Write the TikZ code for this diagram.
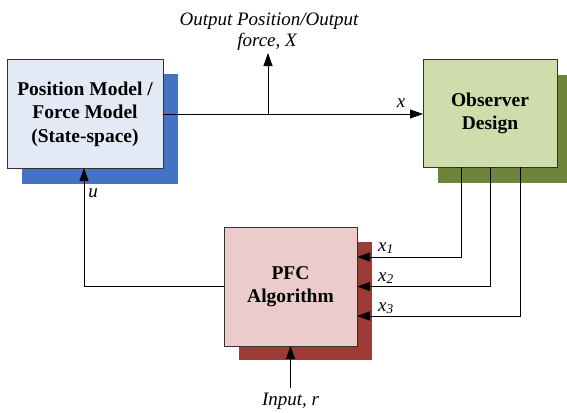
\documentclass[tikz,border=0pt]{standalone}
\usepackage{fontspec}
\setmainfont{Liberation Serif}
\usetikzlibrary{arrows.meta}
\definecolor{bfill}{HTML}{E3EAF6}
\definecolor{bshad}{HTML}{4472C4}
\definecolor{gfill}{HTML}{CFDDAC}
\definecolor{gshad}{HTML}{6D843A}
\definecolor{rfill}{HTML}{ECCCCB}
\definecolor{rshad}{HTML}{9E3B37}
\begin{document}
\begin{tikzpicture}[x=1pt,y=-1pt,
  boxstyle/.style={draw=black!80, line width=1pt, inner sep=0pt, outer sep=0pt, align=center,
    font=\bfseries\fontsize{19.5}{23.5}\selectfont},
  shadstyle/.style={inner sep=0pt, outer sep=0pt},
  lbl/.style={font=\itshape\fontsize{19}{21}\selectfont, inner sep=0pt, anchor=base},
  conn/.style={line width=0.9pt, draw=black},
  arr/.style={conn, -{Triangle[length=13pt,width=9pt]}}]
\useasboundingbox (0,0) rectangle (567,412);
% shadows
\node[shadstyle, fill=bshad, minimum width=156pt, minimum height=110pt] (posshad) at (100,129) {};
\node[shadstyle, fill=gshad, minimum width=134pt, minimum height=108pt] (obsshad) at (505,129) {};
\node[shadstyle, fill=rshad, minimum width=133pt, minimum height=118pt] (pfcshad) at (305.5,301) {};
% boxes
\node[boxstyle, fill=bfill, minimum width=156pt, minimum height=108pt] (pos) at (85,114)
  {Position Model /\\Force Model\\(State-space)};
\node[boxstyle, fill=gfill, minimum width=134pt, minimum height=107pt] (obs) at (490,113.5)
  {Observer\\Design};
\node[boxstyle, fill=rfill, minimum width=133pt, minimum height=119pt] (pfc) at (290.5,286.5)
  {PFC\\Algorithm};
% labels
\node[lbl] (outl1) at (269,26) {Output Position/Output};
\node[lbl] (outl2) at (267,47) {force, \textit{X}};
\node[lbl] (xl) at (401,107) {x};
\node[lbl] (ul) at (93,197) {u};
\node[lbl] (x1l) at (386,251) {x\textsubscript{1}};
\node[lbl] (x2l) at (386,281) {x\textsubscript{2}};
\node[lbl] (x3l) at (386,311) {x\textsubscript{3}};
\node[lbl] (inl) at (290.5,405) {Input, r};
% connectors
\coordinate (br) at (268,114);
\coordinate (outtop) at (268,53);
\coordinate (inbot) at (290.5,388);
\draw[arr] (pos.east) -- (pos.east -| obs.west);
\draw[arr] (br) -- (outtop);
\draw[arr] ([xshift=-29pt]obs.south) |- ([yshift=29.5pt]pfc.east);
\draw[arr] (obs.south) |- (pfc.east);
\draw[arr] ([xshift=30pt]obs.south) |- ([yshift=-29.5pt]pfc.east);
\draw[arr] (pfc.west) -| ([xshift=-1pt]pos.south);
\draw[arr] (inbot) -- (pfc.south);
\end{tikzpicture}
\end{document}
